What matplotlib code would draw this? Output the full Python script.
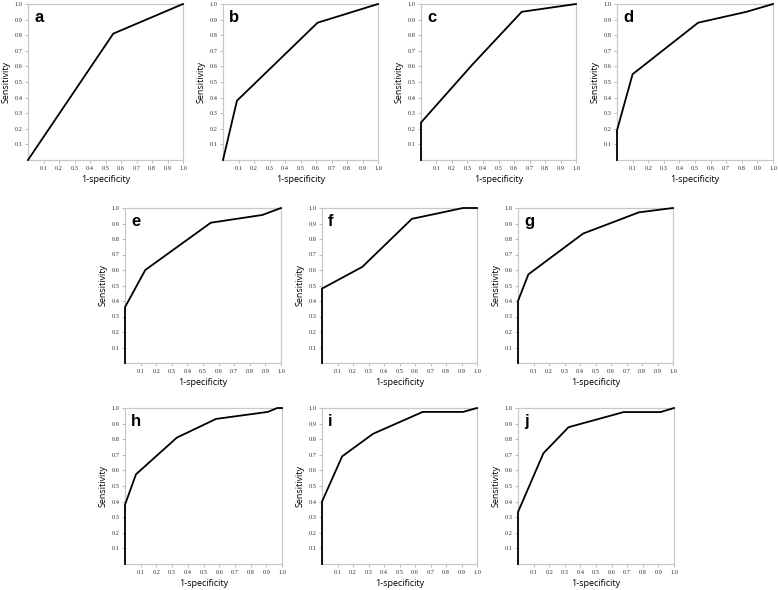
import numpy as np
import matplotlib
matplotlib.use("Agg")
import matplotlib.pyplot as plt

# ROC curve points (1-specificity, sensitivity)
labels = ["a", "b", "c", "d", "e", "f", "g", "h", "i", "j"]

fpr_a = [0, 0.55, 1.0]
tpr_a = [0, 0.81, 1.0]
fpr_b = [0, 0.09, 0.61, 1.0]
tpr_b = [0, 0.38, 0.88, 1.0]
fpr_c = [0, 0, 0.33, 0.65, 1.0]
tpr_c = [0, 0.24, 0.61, 0.95, 1.0]
fpr_d = [0, 0, 0.10, 0.52, 0.83, 1.0]
tpr_d = [0, 0.19, 0.55, 0.88, 0.95, 1.0]
fpr_e = [0, 0, 0.13, 0.55, 0.88, 1.0]
tpr_e = [0, 0.36, 0.60, 0.905, 0.955, 1.0]
fpr_f = [0, 0, 0.26, 0.58, 0.91, 1.0]
tpr_f = [0, 0.48, 0.62, 0.93, 1.0, 1.0]
fpr_g = [0, 0, 0.067, 0.42, 0.78, 1.0]
tpr_g = [0, 0.40, 0.572, 0.835, 0.972, 1.0]
fpr_h = [0, 0, 0.07, 0.33, 0.58, 0.91, 0.97, 1.0]
tpr_h = [0, 0.38, 0.575, 0.81, 0.93, 0.975, 1.0, 1.0]
fpr_i = [0, 0, 0.13, 0.33, 0.65, 0.91, 1.0]
tpr_i = [0, 0.40, 0.69, 0.835, 0.975, 0.975, 1.0]
fpr_j = [0, 0, 0.163, 0.324, 0.678, 0.914, 1.0]
tpr_j = [0, 0.333, 0.71, 0.877, 0.974, 0.974, 1.0]

curves = [(fpr_a, tpr_a), (fpr_b, tpr_b), (fpr_c, tpr_c), (fpr_d, tpr_d),
          (fpr_e, tpr_e), (fpr_f, tpr_f), (fpr_g, tpr_g),
          (fpr_h, tpr_h), (fpr_i, tpr_i), (fpr_j, tpr_j)]

ticks = [0.1, 0.2, 0.3, 0.4, 0.5, 0.6, 0.7, 0.8, 0.9, 1.0]
tick_labels = ["0.1", "0.2", "0.3", "0.4", "0.5", "0.6", "0.7", "0.8", "0.9", "1.0"]

W, H = 778, 590
# axes boxes in pixels: left, top, right, bottom
boxes = [(28, 4, 183, 160), (223, 4, 378, 160), (421, 4, 576, 160), (617, 4, 773, 160),
         (125, 208, 281, 363), (322, 208, 477, 363), (518, 208, 673, 363),
         (125, 408, 282, 564), (322, 408, 477, 564), (518, 408, 674, 564)]

fig = plt.figure(figsize=(W/100, H/100), dpi=100)

for lab, (fx, ty), (l, t, r, b) in zip(labels, curves, boxes):
    ax = fig.add_axes([l/W, 1 - b/H, (r - l)/W, (b - t)/H])
    ax.plot(fx, ty, color="black", lw=1.3, clip_on=False, zorder=3,
            solid_joinstyle="miter")
    ax.set_xlim(0, 1)
    ax.set_ylim(0, 1)
    ax.set_xticks(ticks)
    ax.set_yticks(ticks)
    ax.set_xticklabels(tick_labels, family="Liberation Serif", fontsize=4.6)
    ax.set_yticklabels(tick_labels, family="Liberation Serif", fontsize=4.6)
    ax.tick_params(length=2, width=0.5, color="#a0a0a0", pad=2, labelcolor="#333333")
    for s in ax.spines.values():
        s.set_color("#c8c8c8")
        s.set_linewidth(0.9)
    ax.set_xlabel("1-specificity", family="Open Sans", fontsize=6.5, labelpad=3)
    ax.set_ylabel("Sensitivity", family="Open Sans", fontsize=6.5, labelpad=3)
    ax.text(0.04, 0.96, lab, transform=ax.transAxes, ha="left", va="top",
            family="Liberation Sans", fontweight="bold", fontsize=12)

fig.savefig("out.png", dpi=100)
